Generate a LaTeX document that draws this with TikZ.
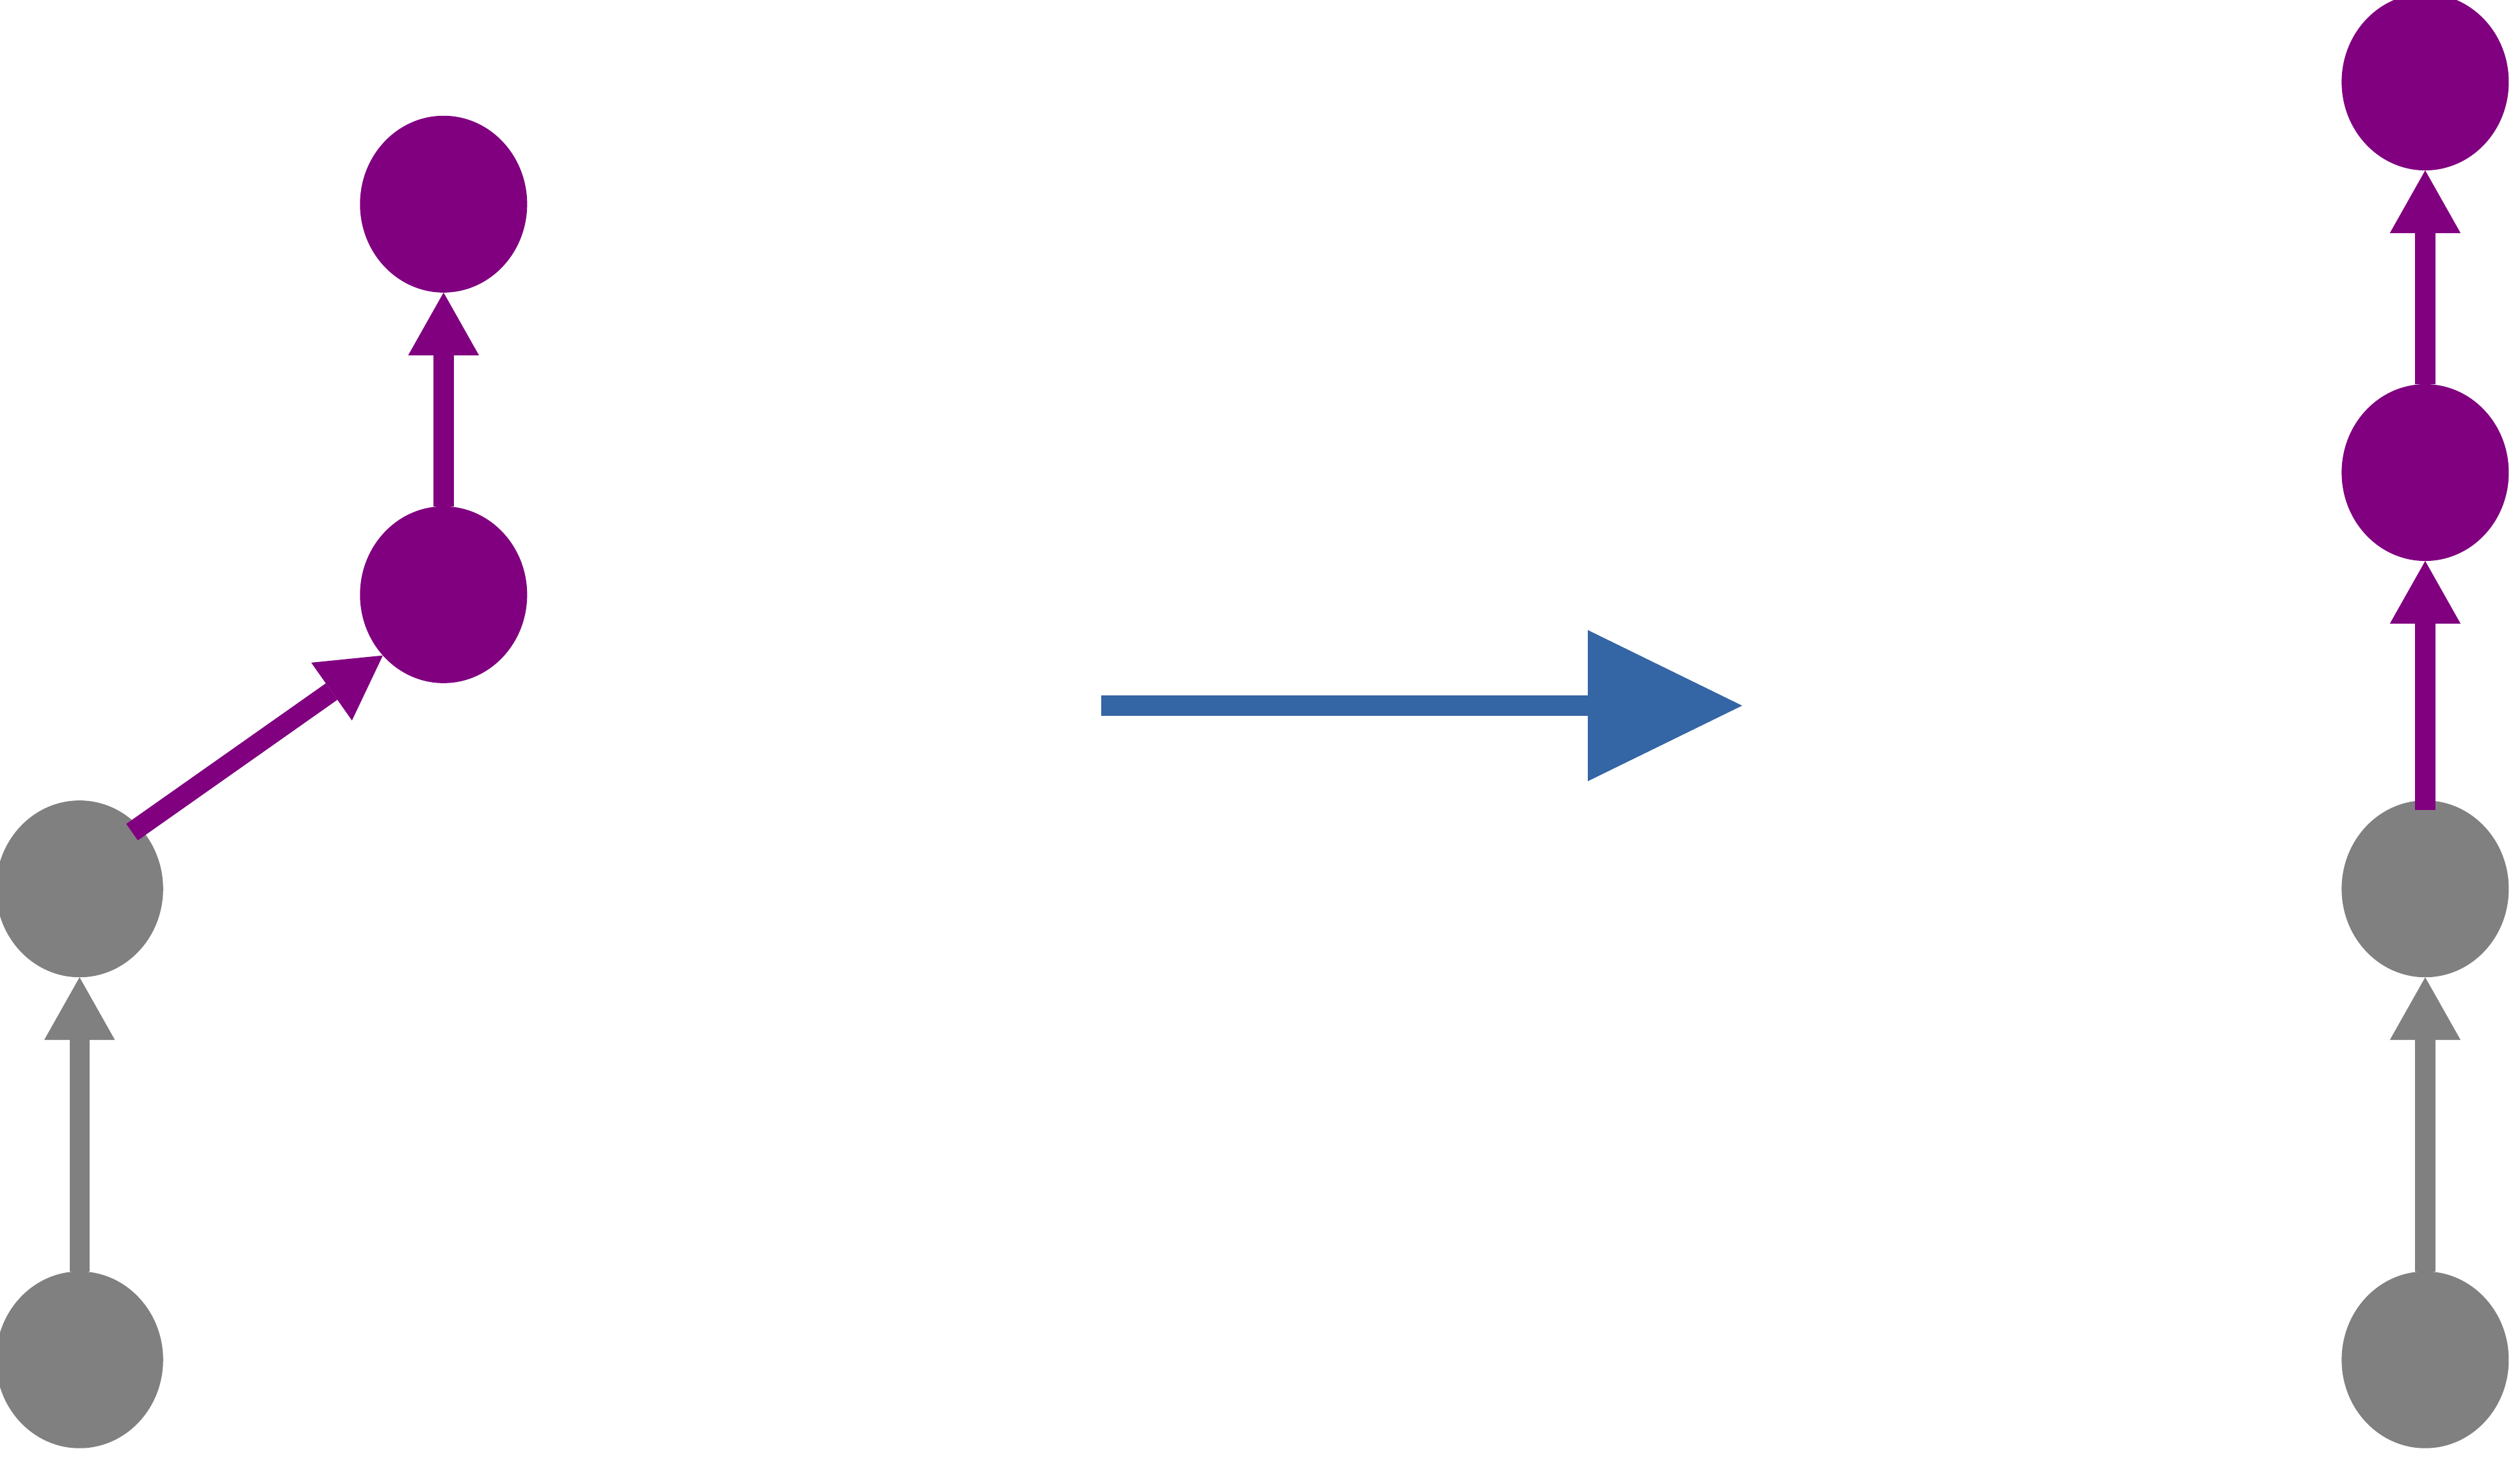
\documentclass[tikz,border=0pt]{standalone}
\usetikzlibrary{arrows.meta,shapes.geometric}
\definecolor{nodegray}{HTML}{808080}
\definecolor{nodepurple}{HTML}{800080}
\definecolor{bigblue}{HTML}{3465A4}
\tikzset{
  dot/.style={ellipse, draw=none, inner sep=0pt, outer sep=0pt,
    minimum width=52pt, minimum height=55pt},
  graydot/.style={dot, fill=nodegray},
  purpledot/.style={dot, fill=nodepurple},
  edgearrow/.style={line width=6.25pt,
    -{Triangle[width=22pt,length=19.5pt,line width=0pt]}},
  grayedge/.style={edgearrow, draw=nodegray},
  purpleedge/.style={edgearrow, draw=nodepurple},
  bigarrow/.style={line width=6.3pt, draw=bigblue,
    -{Triangle[width=47pt,length=48pt,line width=0pt]}}
}
\begin{document}
\begin{tikzpicture}[x=0.5pt,y=-0.5pt]
\useasboundingbox (0,0) rectangle (1568,906.7);
\clip (0,0) rectangle (1568,906.7);
% left graph
\node[graydot] (lg1) at (49.5,846) {};
\node[graydot] (lg2) at (49.5,553) {};
\node[purpledot] (lp1) at (276,370) {};
\node[purpledot] (lp2) at (276,127) {};
% right graph
\node[graydot] (rg1) at (1509,846) {};
\node[graydot] (rg2) at (1509,553) {};
\node[purpledot] (rp1) at (1509,294) {};
\node[purpledot] (rp2) at (1509,51) {};
% edges left
\draw[grayedge] (lg1.north) -- (lg2.south);
\draw[purpleedge, shorten <=-2.75pt] (lg2.46) -- (lp1.225);
\draw[purpleedge] (lp1.north) -- (lp2.south);
% edges right
\draw[grayedge] (rg1.north) -- (rg2.south);
\draw[purpleedge, shorten <=-3pt] (rg2.north) -- (rp1.south);
\draw[purpleedge] (rp1.north) -- (rp2.south);
% big transition arrow
\coordinate (bs) at (685,439);
\coordinate (be) at (1084,439);
\draw[bigarrow] (bs) -- (be);
\end{tikzpicture}
\end{document}
